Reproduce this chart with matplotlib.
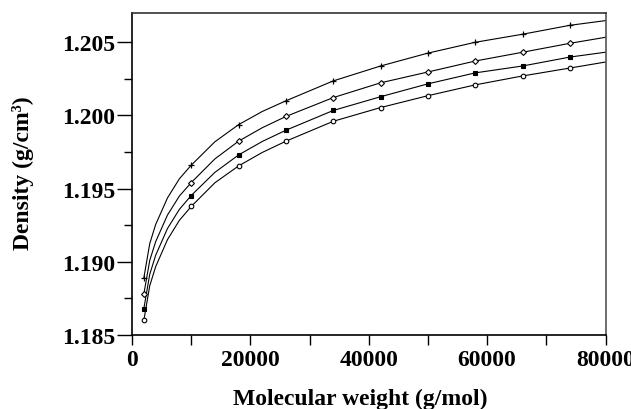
import matplotlib
matplotlib.use("Agg")
import matplotlib.pyplot as plt
from matplotlib.ticker import FixedLocator

# ---- data ----
mw_points = [2000, 10000, 18000, 26000, 34000, 42000, 50000, 58000, 66000, 74000]
dens_plus = [1.1889, 1.19660, 1.19937, 1.20100, 1.20236, 1.20338, 1.20426, 1.20500, 1.20555, 1.20616]
dens_diam = [1.1878, 1.19541, 1.19824, 1.19993, 1.20122, 1.20223, 1.20297, 1.20372, 1.20432, 1.20493]
dens_fill = [1.1868, 1.19453, 1.19730, 1.19899, 1.20034, 1.20128, 1.20216, 1.20291, 1.20338, 1.20399]
dens_open = [1.1860, 1.19378, 1.19655, 1.19824, 1.19960, 1.20054, 1.20135, 1.20209, 1.20270, 1.20324]

# smooth fitted curves
mw_curve = [2000, 3000, 4000, 6000, 8000, 10000, 14000, 18000, 22000, 26000,
            34000, 42000, 50000, 58000, 66000, 74000, 80000]
curve_plus = [1.1889, 1.19125, 1.19255, 1.19437, 1.19567, 1.19660, 1.19820, 1.19937, 1.20027, 1.20100,
              1.20236, 1.20338, 1.20426, 1.20500, 1.20555, 1.20616, 1.20648]
curve_diam = [1.1878, 1.19010, 1.19138, 1.19320, 1.19449, 1.19541, 1.19703, 1.19824, 1.19916, 1.19993,
              1.20122, 1.20223, 1.20297, 1.20372, 1.20432, 1.20493, 1.20534]
curve_fill = [1.1868, 1.18915, 1.19045, 1.19228, 1.19358, 1.19453, 1.19611, 1.19730, 1.19822, 1.19899,
              1.20034, 1.20128, 1.20216, 1.20291, 1.20338, 1.20399, 1.20432]
curve_open = [1.1860, 1.18837, 1.18967, 1.19152, 1.19283, 1.19378, 1.19540, 1.19655, 1.19747, 1.19824,
              1.19960, 1.20054, 1.20135, 1.20209, 1.20270, 1.20324, 1.20365]

x_ticklabels = ["0", "20000", "40000", "60000", "80000"]
y_ticklabels = ["1.185", "1.190", "1.195", "1.200", "1.205"]

plt.rcParams['font.family'] = ['Liberation Serif', 'DejaVu Serif']
plt.rcParams['font.weight'] = 'bold'

fig = plt.figure(figsize=(6.31, 4.10), dpi=100)
ax = fig.add_axes([132/631, 1-336/410, (605.5-132)/631, (336-14)/410])

lc = 'black'
for cx, cy in [(mw_curve, curve_plus), (mw_curve, curve_diam), (mw_curve, curve_fill), (mw_curve, curve_open)]:
    ax.plot(cx, cy, '-', color=lc, lw=0.8, zorder=2)

ax.plot(mw_points, dens_plus, linestyle='none', marker='+', ms=4.5, mew=0.9, color=lc, zorder=3)
ax.plot(mw_points, dens_diam, linestyle='none', marker='D', ms=3.0, mew=0.8, mfc='white', mec=lc, zorder=3)
ax.plot(mw_points, dens_fill, linestyle='none', marker='s', ms=3.3, mew=0.8, mfc=lc, mec=lc, zorder=3)
ax.plot(mw_points, dens_open, linestyle='none', marker='o', ms=3.3, mew=0.8, mfc='white', mec=lc, zorder=3)

ax.set_xlim(0, 80000)
ax.set_ylim(1.185, 1.207)

ax.xaxis.set_major_locator(FixedLocator([0, 20000, 40000, 60000, 80000]))
ax.xaxis.set_minor_locator(FixedLocator([10000, 30000, 50000, 70000]))
ax.set_xticklabels(x_ticklabels)
ax.yaxis.set_major_locator(FixedLocator([1.185, 1.190, 1.195, 1.200, 1.205]))
ax.yaxis.set_minor_locator(FixedLocator([1.1875, 1.1925, 1.1975, 1.2025]))
ax.set_yticklabels(y_ticklabels)

ax.tick_params(axis='x', which='both', direction='out', length=7, width=1.0, pad=3, labelsize=17)
ax.tick_params(axis='y', which='major', direction='out', length=11, width=1.0, pad=1, labelsize=17)
ax.tick_params(axis='y', which='minor', direction='out', length=5.5, width=1.0)

for s in ax.spines.values():
    s.set_linewidth(1.2)
    s.set_color('black')
ax.spines['right'].set_color('#555555')
ax.spines['top'].set_color('#333333')

fig.text(360/631, 1-399/410, "Molecular weight (g/mol)", ha='center', va='center', fontsize=17, fontweight='bold')
fig.text(23/631, 1-173/410, "Density (g/cm³)", ha='center', va='center', rotation=90, fontsize=17, fontweight='bold')

fig.savefig("out.png", dpi=100)
